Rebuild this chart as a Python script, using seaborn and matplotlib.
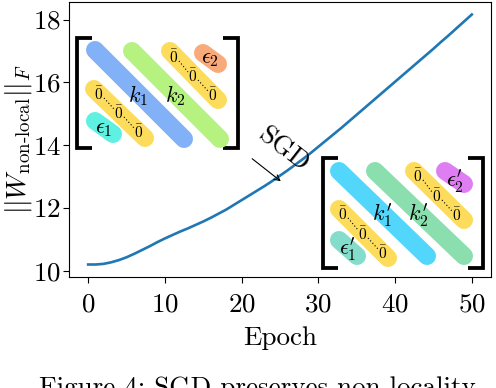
import numpy as np
import pandas as pd
import matplotlib
matplotlib.use("Agg")
import matplotlib.pyplot as plt
import seaborn as sns

plt.rcParams["font.family"] = ["cmr10", "DejaVu Serif"]
plt.rcParams["mathtext.fontset"] = "cm"
plt.rcParams["axes.formatter.use_mathtext"] = True
plt.rcParams["axes.unicode_minus"] = False

# Frobenius norm of the non-local weights per epoch
epochs = list(range(51))
norms = [10.20, 10.20, 10.22, 10.27, 10.34, 10.43, 10.54, 10.66, 10.78, 10.91,
         11.03, 11.14, 11.25, 11.35, 11.46, 11.57, 11.69, 11.82, 11.95, 12.10,
         12.25, 12.40, 12.55, 12.70, 12.86, 13.03, 13.20, 13.38, 13.56, 13.75,
         13.95, 14.15, 14.35, 14.55, 14.76, 14.97, 15.18, 15.39, 15.60, 15.81,
         16.02, 16.23, 16.44, 16.65, 16.86, 17.07, 17.29, 17.50, 17.72, 17.94,
         18.16]
xticks = [0, 10, 20, 30, 40, 50]
yticks = [10, 12, 14, 16, 18]

df = pd.DataFrame({"Epoch": epochs, "norm": norms})

W, H = 496, 388
fig = plt.figure(figsize=(W / 100, H / 100), dpi=100)
ax = fig.add_axes([69 / W, 1 - 277 / H, (491 - 69) / W, (277 - 2) / H])

sns.lineplot(data=df, x="Epoch", y="norm", ax=ax, color="#1f77b4", linewidth=1.9)
ax.set_xticks(xticks)
ax.set_yticks(yticks)
ax.tick_params(labelsize=19.5, length=4.3, width=0.8)
ax.tick_params(axis="x", pad=7)
ax.tick_params(axis="y", pad=1.5)
ax.set_xlabel("Epoch", fontsize=19.5, labelpad=7)
ax.set_ylabel(r"$||W_{\text{non-local}}||_F$", fontsize=19.5)
ax.yaxis.set_label_coords(-0.083, 0.5)
for s in ax.spines.values():
    s.set_linewidth(0.8)

# overlay in pixel coordinates for the matrix sketches
ov = fig.add_axes([0, 0, 1, 1], zorder=5)
ov.set_xlim(0, W)
ov.set_ylim(H, 0)
ov.axis("off")
ov.patch.set_alpha(0)

PX = 0.72  # points per pixel


def pill(x0, y0, x1, y1, color, w=18):
    ov.plot([x0, x1], [y0, y1], color=color, lw=w * PX, solid_capstyle="round")


def bracket(xl, xr, yt, yb, tick=15):
    kw = dict(color="black", lw=3.8 * PX, solid_capstyle="butt", solid_joinstyle="miter")
    ov.plot([xl + tick, xl, xl, xl + tick], [yt, yt, yb, yb], **kw)
    ov.plot([xr - tick, xr, xr, xr - tick], [yt, yt, yb, yb], **kw)


def zeros(pts):
    for (xa, ya), (xb, yb) in zip(pts[:-1], pts[1:]):
        ov.plot([xa + 5, xb - 5], [ya + 4, yb - 4], color="black", lw=0.8, ls=(0, (1, 2)))
    for x, y in pts:
        ov.text(x, y, r"$\bar{0}$", fontsize=11, ha="center", va="center")


# left matrix
bracket(77, 238, 38, 148)
pill(95, 50, 184, 139, "#82b1f7")
pill(132, 51, 220, 139, "#b5f280")
pill(170, 51, 218, 100, "#fddc5c")
pill(203, 53, 218, 64, "#f9aa7b")
pill(94, 89, 145, 138, "#fddc5c")
pill(95, 121, 113, 134, "#5ef0e0")
zeros([(174, 57), (193, 76), (213, 95)])
zeros([(99, 94), (119, 113), (139, 132)])
ov.text(138, 96, r"$k_1$", fontsize=16, ha="center", va="center")
ov.text(175, 96, r"$k_2$", fontsize=16, ha="center", va="center")
ov.text(210, 59, r"$\epsilon_2$", fontsize=16, ha="center", va="center")
ov.text(104, 129, r"$\epsilon_1$", fontsize=16, ha="center", va="center")

# right matrix
bracket(323, 483, 158, 268)
pill(339, 171, 427, 256, "#52d6fb")
pill(375, 171, 464, 256, "#8bdfae")
pill(414, 171, 464, 220, "#fddc5c")
pill(445, 171, 464, 184, "#df7ef3")
pill(339, 209, 388, 258, "#fddc5c")
pill(339, 240, 357, 256, "#84dccb")
zeros([(418, 176), (437, 196), (457, 215)])
zeros([(343, 214), (363, 234), (383, 253)])
ov.text(382, 215, r"$k_1^{\prime}$", fontsize=16, ha="center", va="center")
ov.text(418, 215, r"$k_2^{\prime}$", fontsize=16, ha="center", va="center")
ov.text(455, 181, r"$\epsilon_2^{\prime}$", fontsize=16, ha="center", va="center")
ov.text(348, 249, r"$\epsilon_1^{\prime}$", fontsize=16, ha="center", va="center")

# SGD arrow
ov.annotate("", xy=(283, 183), xytext=(250, 157),
            arrowprops=dict(arrowstyle="->", color="black", lw=0.8))
ov.text(283, 150, "SGD", fontsize=19.5, rotation=-38, ha="center", va="center",
        rotation_mode="anchor")

fig.text(39 / W, 1 - 395 / H, "Figure 4: SGD preserves non-locality",
         fontsize=19.5, ha="left", va="baseline")

fig.savefig("out.png", dpi=100)
